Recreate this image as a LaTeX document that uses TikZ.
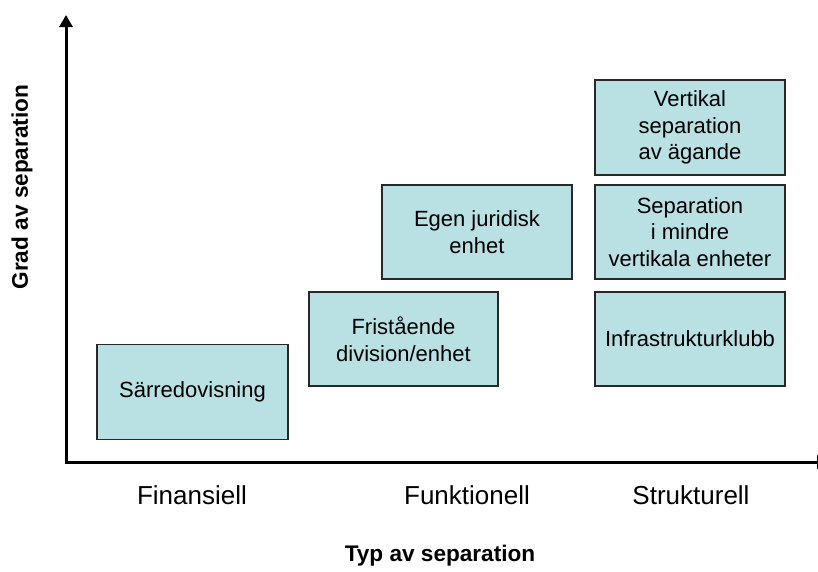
\documentclass[tikz,border=0pt]{standalone}
\usepackage{fontspec}
\setmainfont{Liberation Sans}
\usetikzlibrary{arrows.meta}
\definecolor{boxfill}{RGB}{185,224,227}
\definecolor{boxline}{RGB}{40,40,40}
\begin{document}
\begin{tikzpicture}[x=1pt,y=-1pt,
  cat/.style={draw=boxline,line width=1.3pt,fill=boxfill,align=center,
    inner sep=0pt,font=\fontsize{22}{26.5}\selectfont},
  axis/.style={line width=3pt,-{Triangle[length=12pt,width=13pt]}},
  axlab/.style={font=\fontsize{26}{30}\selectfont},
  title/.style={font=\fontsize{22.6}{26}\selectfont\bfseries}]
\useasboundingbox (0,0) rectangle (818,571);
\clip (0,0) rectangle (818,571);
\coordinate (o) at (66,462);
\coordinate (ytop) at (66,15);
\coordinate (xend) at (829,462);
\draw[axis] (o) -- (ytop);
\draw[axis] ([xshift=-1.5pt]o) -- (xend);

\node[cat,minimum width=191pt,minimum height=95pt] (sar) at (192.5,392) {Särredovisning};
\node[cat,minimum width=189pt,minimum height=94pt] (fri) at (403.5,339) {Fristående\\division/enhet};
\node[cat,minimum width=190pt,minimum height=94pt] (egen) at (477,232) {Egen juridisk\\enhet};
\node[cat,minimum width=190pt,minimum height=95pt] (vert) at (690,127.5) {Vertikal\\separation\\av ägande};
\node[cat,minimum width=190pt,minimum height=94pt] (sep) at (690,232) {Separation\\i mindre\\vertikala enheter};
\node[cat,minimum width=190pt,minimum height=94pt] (infra) at (690,339) {Infrastrukturklubb};

\node[axlab] (fin) at (192,495) {Finansiell};
\node[axlab] (fun) at (467,495) {Funktionell};
\node[axlab] (str) at (691,495) {Strukturell};
\node[title] (typ) at (440,556) {Typ av separation};
\node[title,rotate=90] (grad) at (22,187) {Grad av separation};
\end{tikzpicture}
\end{document}
